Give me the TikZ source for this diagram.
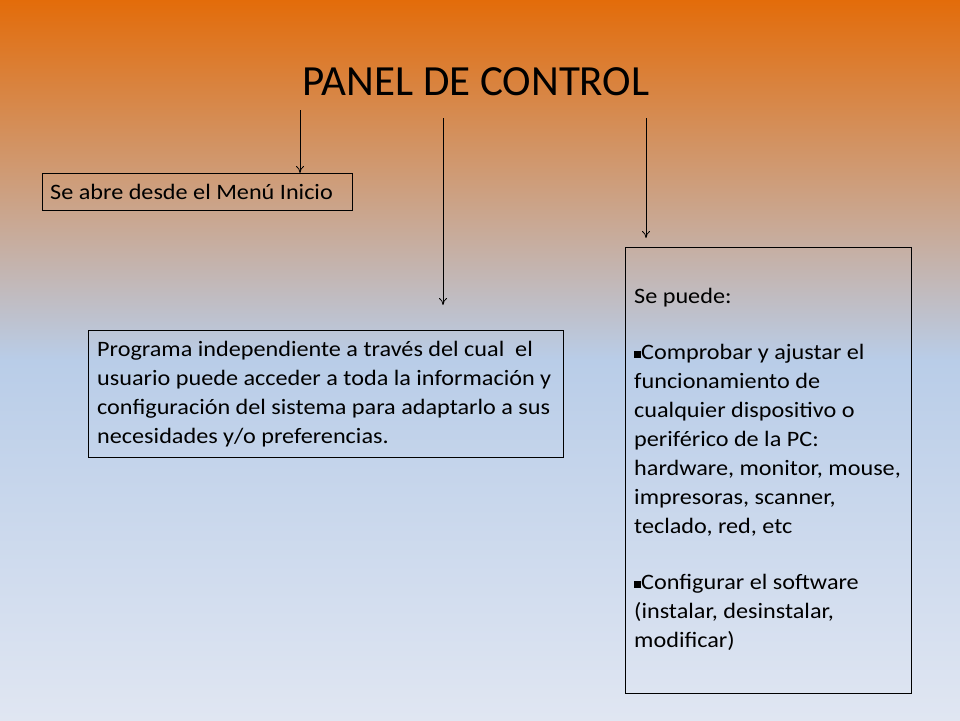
\documentclass[tikz,border=0pt]{standalone}
\usepackage{fontspec}
\setmainfont{Carlito}
\newfontfamily\bodyfont[FakeStretch=1.1]{Carlito}
\usetikzlibrary{arrows.meta}
\begin{document}
\begin{tikzpicture}[x=1pt,y=-1pt,
  box/.style={draw=black,line width=0.8pt,anchor=north west,align=left,inner sep=0pt},
  txt/.style={font=\bodyfont\fontsize{22}{29}\selectfont,anchor=north west,align=left,inner sep=0pt},
  arr/.style={-{To[length=7pt,width=8pt]},line width=0.8pt}]
\useasboundingbox (0,0) rectangle (960,720);
\shade[top color={rgb,255:red,227;green,108;blue,10},bottom color={rgb,255:red,224;green,230;blue,242},middle color={rgb,255:red,185;green,205;blue,232}] (0,0) rectangle (960,720);
\node[font=\fontsize{43}{46}\selectfont] (title) at (476,82) {PANEL DE CONTROL};
\draw[box] (42,173) rectangle (352,210);
\node[txt,anchor=west] (b1) at (50,191.5) {Se abre desde el Menú Inicio};
\coordinate (b1top) at (300,173);
\draw[box] (88,330) rectangle (563,457);
\node[txt] (b2) at (97,341) {Programa independiente a través del cual~ el\\usuario puede acceder a toda la información y\\configuración del sistema para adaptarlo a sus\\necesidades y/o preferencias.};
\draw[box] (625,247) rectangle (911,693);
\node[txt] (b3) at (634,288) {Se puede:\\[27pt]\rule[1pt]{7pt}{7pt}Comprobar y ajustar el\\funcionamiento de\\cualquier dispositivo o\\periférico de la PC:\\hardware, monitor, mouse,\\impresoras, scanner,\\teclado, red, etc\\[27pt]\rule[1pt]{7pt}{7pt}Configurar el software\\(instalar, desinstalar,\\modificar)};
\coordinate (s1) at (300,110);
\coordinate (s2) at (443,118);
\coordinate (e2) at (443,305);
\coordinate (s3) at (646,118);
\coordinate (e3) at (646,238);
\draw[arr] (s1) -- (b1top);
\draw[arr] (s2) -- (e2);
\draw[arr] (s3) -- (e3);
\end{tikzpicture}
\end{document}
